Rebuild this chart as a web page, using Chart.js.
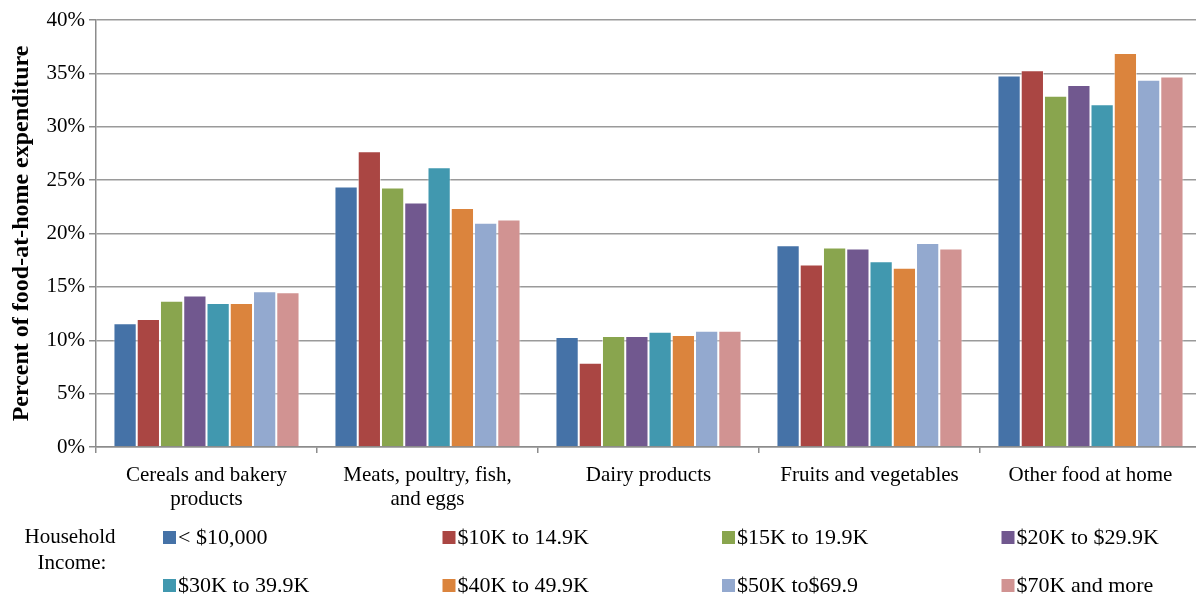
<!DOCTYPE html>
<html>
<head>
<meta charset="utf-8">
<script src="https://cdn.jsdelivr.net/npm/chart.js@4.4.0/dist/chart.umd.min.js"></script>
<style>
  html, body { margin: 0; padding: 0; background: #fff; overflow: hidden; }
  #wrap { width: 1196px; height: 598px; overflow: hidden; }
</style>
</head>
<body>
<!-- plot runs a few px past the right edge, so the canvas is a bit wider than the frame -->
<div id="wrap"><canvas id="barCanvas" width="1201" height="598"></canvas></div>
<script>
// share of food-at-home spending by category, per household income bracket
const categories = [
    ["Cereals and bakery", "products"],
    ["Meats, poultry, fish,", "and eggs"],
    "Dairy products",
    "Fruits and vegetables",
    "Other food at home"
];
const incomeGroups = ["< $10,000", "$10K to 14.9K", "$15K to 19.9K", "$20K to $29.9K",
                      "$30K to 39.9K", "$40K to 49.9K", "$50K to$69.9", "$70K and more"];

const under10k   = [11.6, 24.4, 10.3, 18.9, 34.8];
const inc10to15  = [12.0, 27.7,  7.9, 17.1, 35.3];
const inc15to20  = [13.7, 24.3, 10.4, 18.7, 32.9];
const inc20to30  = [14.2, 22.9, 10.4, 18.6, 33.9];
const inc30to40  = [13.5, 26.2, 10.8, 17.4, 32.1];
const inc40to50  = [13.5, 22.4, 10.5, 16.8, 36.9];
const inc50to70  = [14.6, 21.0, 10.9, 19.1, 34.4];
const inc70plus  = [14.5, 21.3, 10.9, 18.6, 34.7];

const yTicks = [0, 5, 10, 15, 20, 25, 30, 35, 40];

const seriesValues = [under10k, inc10to15, inc15to20, inc20to30, inc30to40, inc40to50, inc50to70, inc70plus];
const colors = ["#4572A7", "#AA4643", "#89A54E", "#71588F", "#4198AF", "#DB843D", "#93A9CF", "#D19392"];

const serif = "'Liberation Serif', 'Times New Roman', serif";
const axisGray = "#8c8c8c";

// legend lives under the category labels, 4 per row, with a caption on the left
const incomeLegend = {
    id: 'incomeLegend',
    afterDraw(chart) {
        const ctx = chart.ctx;
        ctx.save();
        ctx.fillStyle = '#000';
        ctx.textBaseline = 'middle';
        ctx.textAlign = 'center';
        ctx.font = '21px ' + serif;
        ctx.fillText('Household', 70, 537);
        ctx.fillText('Income:', 72, 563);
        ctx.textAlign = 'left';
        ctx.font = '22px ' + serif;
        chart.data.datasets.forEach((ds, i) => {
            const x = 163 + (i % 4) * 279.5;
            const y = i < 4 ? 537 : 585;
            ctx.fillStyle = ds.backgroundColor;
            ctx.fillRect(x, y - 6, 13, 13);
            ctx.fillStyle = '#000';
            ctx.fillText(ds.label, x + 15, y + 1);
        });
        ctx.restore();
    }
};

const barCanvas = document.getElementById("barCanvas");

const barChart = new Chart(barCanvas, {
    type: "bar",
    data: {
        labels: categories,
        datasets: seriesValues.map((vals, i) => ({
            label: incomeGroups[i],
            data: vals,
            backgroundColor: colors[i],
            borderColor: 'rgba(255,255,255,0.5)',
            borderWidth: 1,
            categoryPercentage: 0.842,
            barPercentage: 1
        }))
    },
    options: {
        responsive: false,
        animation: false,
        layout: { padding: { top: 20, right: 0, left: 0, bottom: 0 } },
        plugins: {
            legend: { display: false },
            tooltip: { enabled: false }
        },
        scales: {
            y: {
                min: 0,
                max: 40,
                afterBuildTicks: (scale) => { scale.ticks = yTicks.map(v => ({ value: v })); },
                afterFit: (scale) => { scale.width = 96; },
                ticks: {
                    color: '#000',
                    padding: 4,
                    font: { family: serif, size: 21 },
                    callback: (v) => v + '%'
                },
                grid: { color: '#9a9a9a', lineWidth: 1.5, tickLength: 7, tickColor: axisGray },
                border: { color: axisGray, width: 1.5 },
                title: {
                    display: true,
                    text: 'Percent of food-at-home expenditure',
                    color: '#000',
                    font: { family: serif, size: 24, weight: 'bold', lineHeight: 1.1 },
                    padding: { top: 9, bottom: 0 }
                }
            },
            x: {
                afterFit: (scale) => { scale.height = 151; },
                ticks: {
                    color: '#000',
                    padding: 10,
                    maxRotation: 0,
                    font: { family: serif, size: 21, lineHeight: 1.15 }
                },
                grid: { offset: true, drawOnChartArea: false, tickLength: 6, color: axisGray, lineWidth: 1.5 },
                border: { color: axisGray, width: 1.5 }
            }
        }
    },
    plugins: [incomeLegend]
});
</script>
</body>
</html>
